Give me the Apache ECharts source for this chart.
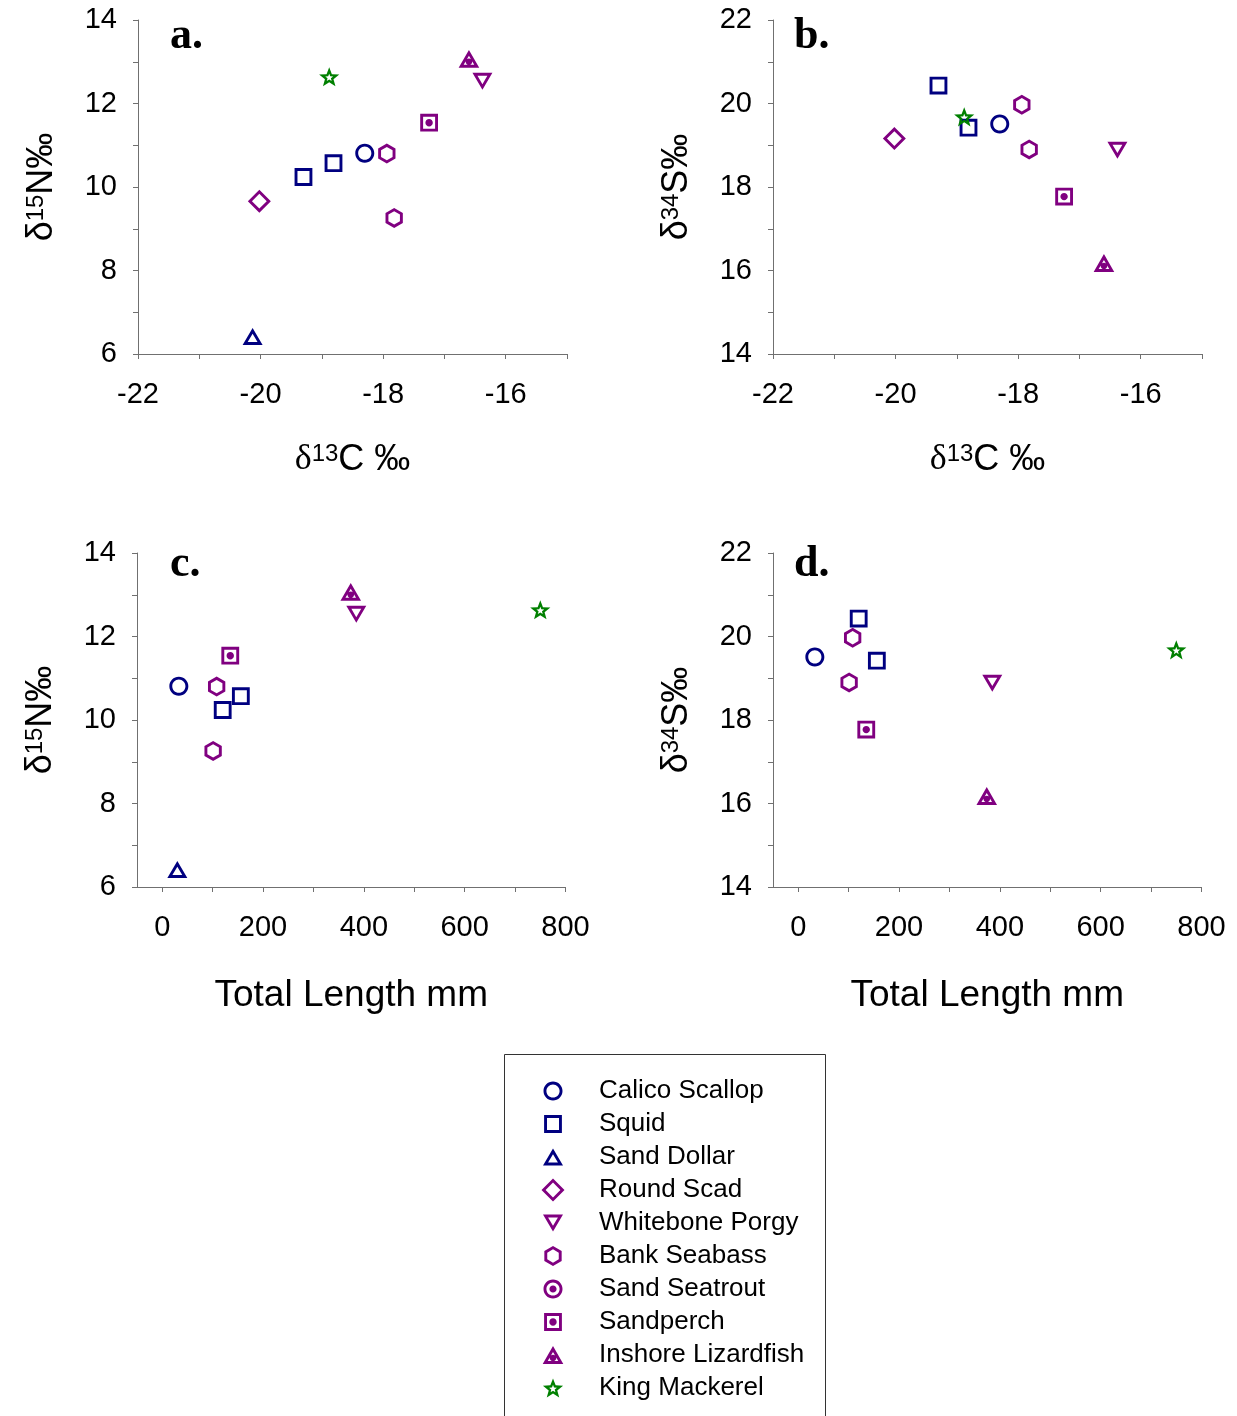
<!DOCTYPE html>
<html>
<head>
<meta charset="utf-8">
<script src="https://cdn.jsdelivr.net/npm/echarts@6.0.0/dist/echarts.min.js"></script>
<style>
  html, body { margin: 0; padding: 0; background: #ffffff; }
  #chart { width: 1237px; height: 1416px; }
</style>
</head>
<body>
<div id="chart"></div>
<script>
// Species, in legend order
const speciesNames = [
  'Calico Scallop', 'Squid', 'Sand Dollar', 'Round Scad', 'Whitebone Porgy',
  'Bank Seabass', 'Sand Seatrout', 'Sandperch', 'Inshore Lizardfish', 'King Mackerel'
];

// One entry per analysed sample (null = not measured)
const sampleSpecies = [
  'Calico Scallop', 'Squid', 'Squid', 'Sand Dollar', 'Round Scad', 'Whitebone Porgy',
  'Bank Seabass', 'Bank Seabass', 'Sandperch', 'Inshore Lizardfish', 'King Mackerel'
];
const d13C = [-18.30, -19.30, -18.81, -20.13, -20.02, -16.38, -17.94, -17.82, -17.25, -16.60, -18.88];
const d15N = [10.81, 10.24, 10.57, 6.42, 9.66, 12.53, 10.80, 9.26, 11.54, 13.07, 12.64];
const d34S = [19.51, 20.43, 19.42, null, 19.16, 18.88, 19.97, 18.90, 17.77, 16.18, 19.68];
const totalLength = [33, 120, 156, 30, null, 385, 108, 101, 135, 374, 750];

// Tick positions and labels of the total-length axes
const lengthTicks = [0, 100, 200, 300, 400, 500, 600, 700, 800];
const lengthLabels = [0, 200, 400, 600, 800];
const panelLetters = ['a.', 'b.', 'c.', 'd.'];

// ---------- marker shapes (filled outline rings inside a 24x24 frame) ----------
const F = 24, C = 12, T = 2.9;
const fmt = n => (Math.round(n * 100) / 100).toString();
const FRAME = 'M0,0 Z M' + F + ',' + F + ' Z';

function polyStr(pts) {
  return 'M' + pts.map(p => fmt(p[0]) + ',' + fmt(p[1])).join(' L') + ' Z';
}
function signedArea(pts) {
  let s = 0;
  for (let i = 0; i < pts.length; i++) {
    const a = pts[i], b = pts[(i + 1) % pts.length];
    s += a[0] * b[1] - b[0] * a[1];
  }
  return s / 2;
}
function inset(pts, t) {
  const n = pts.length;
  let cx = 0, cy = 0;
  pts.forEach(p => { cx += p[0] / n; cy += p[1] / n; });
  const lines = [];
  for (let i = 0; i < n; i++) {
    const a = pts[i], b = pts[(i + 1) % n];
    let dx = b[0] - a[0], dy = b[1] - a[1];
    const L = Math.hypot(dx, dy); dx /= L; dy /= L;
    let nx = -dy, ny = dx;
    const mx = (a[0] + b[0]) / 2, my = (a[1] + b[1]) / 2;
    if ((cx - mx) * nx + (cy - my) * ny < 0) { nx = -nx; ny = -ny; }
    lines.push({ px: a[0] + nx * t, py: a[1] + ny * t, dx, dy });
  }
  const out = [];
  for (let i = 0; i < n; i++) {
    const l1 = lines[(i - 1 + n) % n], l2 = lines[i];
    const den = l1.dx * l2.dy - l1.dy * l2.dx;
    const s = ((l2.px - l1.px) * l2.dy - (l2.py - l1.py) * l2.dx) / den;
    out.push([l1.px + s * l1.dx, l1.py + s * l1.dy]);
  }
  return out;
}
function circleStr(cx, cy, r, reverse) {
  const k = 0.5523 * r;
  const P = (x, y) => fmt(x) + ',' + fmt(y);
  if (!reverse) {
    return 'M' + P(cx + r, cy) +
      ' C' + P(cx + r, cy + k) + ' ' + P(cx + k, cy + r) + ' ' + P(cx, cy + r) +
      ' C' + P(cx - k, cy + r) + ' ' + P(cx - r, cy + k) + ' ' + P(cx - r, cy) +
      ' C' + P(cx - r, cy - k) + ' ' + P(cx - k, cy - r) + ' ' + P(cx, cy - r) +
      ' C' + P(cx + k, cy - r) + ' ' + P(cx + r, cy - k) + ' ' + P(cx + r, cy) + ' Z';
  }
  return 'M' + P(cx + r, cy) +
    ' C' + P(cx + r, cy - k) + ' ' + P(cx + k, cy - r) + ' ' + P(cx, cy - r) +
    ' C' + P(cx - k, cy - r) + ' ' + P(cx - r, cy - k) + ' ' + P(cx - r, cy) +
    ' C' + P(cx - r, cy + k) + ' ' + P(cx - k, cy + r) + ' ' + P(cx, cy + r) +
    ' C' + P(cx + k, cy + r) + ' ' + P(cx + r, cy + k) + ' ' + P(cx + r, cy) + ' Z';
}
function ringPolygon(pts, t, dot) {
  if (signedArea(pts) < 0) pts = pts.slice().reverse();
  const inner = inset(pts, t).reverse();
  let s = polyStr(pts) + ' ' + polyStr(inner);
  if (dot) s += ' ' + circleStr(dot[0], dot[1], dot[2], false);
  return 'path://' + s + ' ' + FRAME;
}
function ringCircle(r, t, dotR) {
  let s = circleStr(C, C, r, false) + ' ' + circleStr(C, C, r - t, true);
  if (dotR) s += ' ' + circleStr(C, C, dotR, false);
  return 'path://' + s + ' ' + FRAME;
}
const square = h => [[C - h, C - h], [C + h, C - h], [C + h, C + h], [C - h, C + h]];
const diamond = h => [[C, C - h], [C + h, C], [C, C + h], [C - h, C]];
const triUp = (w, h) => [[C, C - h / 2], [C + w / 2, C + h / 2], [C - w / 2, C + h / 2]];
const triDown = (w, h) => [[C - w / 2, C - h / 2], [C + w / 2, C - h / 2], [C, C + h / 2]];
function hexagon(R) {
  const pts = [];
  for (let i = 0; i < 6; i++) {
    const a = (-90 + 60 * i) * Math.PI / 180;
    pts.push([C + R * Math.cos(a), C + R * Math.sin(a)]);
  }
  return pts;
}
function star(R, r, cy) {
  const pts = [];
  for (let i = 0; i < 10; i++) {
    const a = (-90 + 36 * i) * Math.PI / 180;
    const rr = i % 2 ? r : R;
    pts.push([C + rr * Math.cos(a), cy + rr * Math.sin(a)]);
  }
  return pts;
}

const NAVY = '#000080', PURPLE = '#800080', GREEN = '#008000';
const speciesStyle = {
  'Calico Scallop':     { color: NAVY,   symbol: ringCircle(9.5, T) },
  'Squid':              { color: NAVY,   symbol: ringPolygon(square(8.9), T) },
  'Sand Dollar':        { color: NAVY,   symbol: ringPolygon(triUp(20, 17), T) },
  'Round Scad':         { color: PURPLE, symbol: ringPolygon(diamond(11.5), T) },
  'Whitebone Porgy':    { color: PURPLE, symbol: ringPolygon(triDown(20, 17), T) },
  'Bank Seabass':       { color: PURPLE, symbol: ringPolygon(hexagon(10), T) },
  'Sand Seatrout':      { color: PURPLE, symbol: ringCircle(9.5, T, 3.6) },
  'Sandperch':          { color: PURPLE, symbol: ringPolygon(square(8.9), T, [C, C, 3.7]) },
  'Inshore Lizardfish': { color: PURPLE, symbol: ringPolygon(triUp(20.6, 17.8), T, [C, C + 3, 3.3]) },
  'King Mackerel':      { color: GREEN,  symbol: ringPolygon(star(10.6, 4.5, 13), 2.3) }
};

// ---------- panels ----------
const FONT = '"Liberation Sans", Arial, Helvetica, sans-serif';
const SERIF = '"Liberation Serif", "Times New Roman", serif';
const AXIS_GREY = '#707070';

const isoName = (sup, rest, serifDelta, size) => ({
  text: '{d|δ}{s|' + sup + '}{m|' + rest + '}',
  rich: {
    d: { fontFamily: serifDelta ? SERIF : FONT, fontSize: size, color: '#000', lineHeight: size },
    s: { fontFamily: FONT, fontSize: Math.round(size * 0.66), color: '#000', verticalAlign: 'top', lineHeight: Math.round(size * 0.66) },
    m: { fontFamily: FONT, fontSize: size, color: '#000', lineHeight: size }
  }
});

const panels = [
  { grid: { left: 138, top: 20, width: 429, height: 334 }, x: d13C, y: d15N, xKind: 'c13',
    yMin: 6, yMax: 14, xTitle: isoName('13', 'C ‰', true, 36), yTitle: isoName('15', 'N‰', false, 36),
    letterPos: [170, 37] },
  { grid: { left: 773, top: 20, width: 429, height: 334 }, x: d13C, y: d34S, xKind: 'c13',
    yMin: 14, yMax: 22, xTitle: isoName('13', 'C ‰', true, 36), yTitle: isoName('34', 'S‰', false, 36),
    letterPos: [794, 37] },
  { grid: { left: 137, top: 553, width: 428.5, height: 334 }, x: totalLength, y: d15N, xKind: 'length',
    yMin: 6, yMax: 14, xTitle: null, yTitle: isoName('15', 'N‰', false, 36),
    letterPos: [170, 565] },
  { grid: { left: 773, top: 553, width: 428.5, height: 334 }, x: totalLength, y: d34S, xKind: 'length',
    yMin: 14, yMax: 22, xTitle: null, yTitle: isoName('34', 'S‰', false, 36),
    letterPos: [794, 565] }
];

const axisLine = { show: true, onZero: false, lineStyle: { color: AXIS_GREY, width: 1 } };
const axisTick = { show: true, inside: false, length: 5, lineStyle: { color: AXIS_GREY, width: 1 } };
const evenOnly = v => (Math.round(v) % 2 === 0 ? String(v) : '');

const grids = [], xAxes = [], yAxes = [], series = [], graphics = [];

panels.forEach((p, i) => {
  grids.push(Object.assign({ containLabel: false, outerBoundsMode: 'none' }, p.grid));

  let xa;
  if (p.xKind === 'c13') {
    xa = {
      type: 'value', gridIndex: i, min: -22, max: -15, interval: 1,
      axisLine, axisTick, splitLine: { show: false },
      axisLabel: { formatter: evenOnly, fontSize: 29, fontFamily: FONT, color: '#000', margin: 26 },
      name: p.xTitle.text, nameLocation: 'middle', nameGap: 88,
      nameTextStyle: { rich: p.xTitle.rich }
    };
  } else {
    xa = {
      type: 'value', gridIndex: i, min: -50, max: 800,
      axisLine, splitLine: { show: false },
      axisTick: Object.assign({ customValues: lengthTicks }, axisTick),
      axisLabel: { customValues: lengthLabels, fontSize: 29, fontFamily: FONT, color: '#000', margin: 26 },
      name: 'Total Length mm', nameLocation: 'middle', nameGap: 90,
      nameTextStyle: { fontSize: 37, fontFamily: FONT, color: '#000' }
    };
  }
  xAxes.push(xa);

  yAxes.push({
    type: 'value', gridIndex: i, min: p.yMin, max: p.yMax, interval: 1,
    axisLine, axisTick, splitLine: { show: false },
    axisLabel: { formatter: evenOnly, fontSize: 29, fontFamily: FONT, color: '#000', margin: 21 },
    name: p.yTitle.text, nameLocation: 'middle', nameGap: 78,
    nameTextStyle: { rich: p.yTitle.rich }
  });

  speciesNames.forEach(name => {
    const pts = [];
    sampleSpecies.forEach((sp, k) => {
      if (sp === name && p.x[k] != null && p.y[k] != null) pts.push([p.x[k], p.y[k]]);
    });
    const st = speciesStyle[name];
    series.push({
      type: 'scatter', name, xAxisIndex: i, yAxisIndex: i, data: pts,
      symbol: st.symbol, symbolSize: 24,
      itemStyle: { color: st.color, borderWidth: 0, opacity: 1 },
      emphasis: { disabled: true }, silent: true
    });
  });

  graphics.push({
    type: 'text', x: p.letterPos[0], y: p.letterPos[1],
    style: { text: panelLetters[i], font: 'bold 44px ' + SERIF, fill: '#000', align: 'left', verticalAlign: 'middle' }
  });
});

// Legend frame: open at the bottom, running past the page edge
graphics.push({
  type: 'rect', z: -1, silent: true,
  shape: { x: 504.5, y: 1054.5, width: 321, height: 400 },
  style: { fill: 'none', stroke: '#333', lineWidth: 1 }
});

const chart = echarts.init(document.getElementById('chart'), null, { renderer: 'canvas' });
chart.setOption({
  animation: false,
  backgroundColor: '#ffffff',
  grid: grids,
  xAxis: xAxes,
  yAxis: yAxes,
  series,
  graphic: graphics,
  legend: {
    data: speciesNames,
    orient: 'vertical',
    left: 541, top: 1078, height: 330,
    padding: 0,
    itemWidth: 24, itemHeight: 24, itemGap: 7,
    selectedMode: false,
    textStyle: { fontSize: 26, fontFamily: FONT, color: '#000', padding: [0, 0, 0, 29] },
    itemStyle: { borderWidth: 0 }
  }
});
</script>
</body>
</html>
